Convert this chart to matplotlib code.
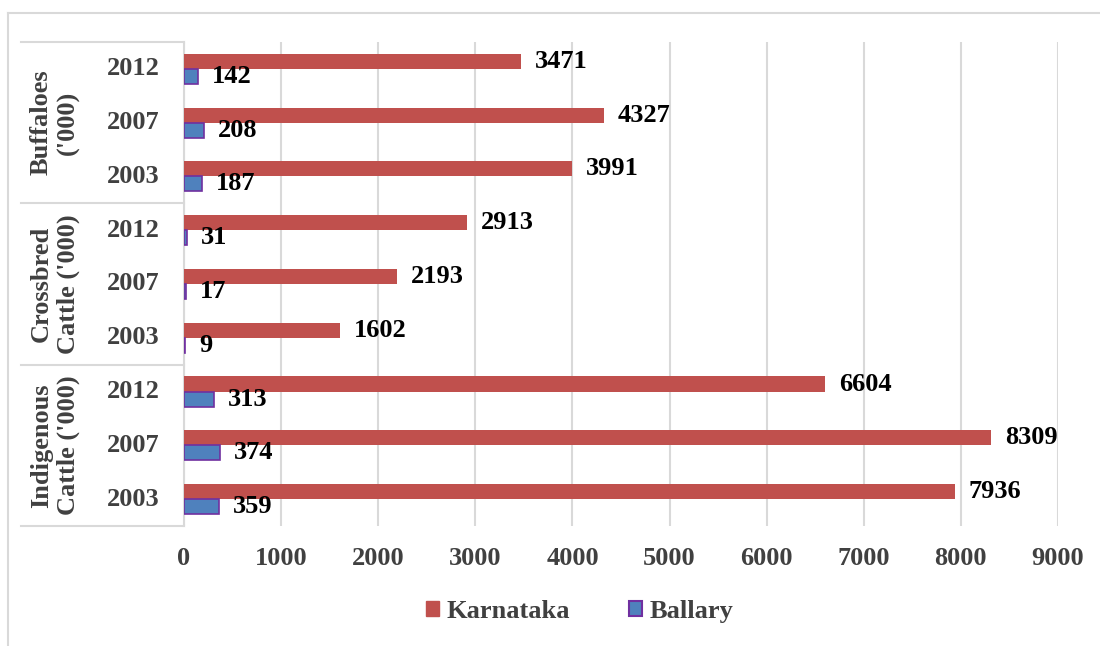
import matplotlib
matplotlib.use('Agg')
import matplotlib.pyplot as plt
import numpy as np
from matplotlib.lines import Line2D
from matplotlib.patches import Patch
from matplotlib.transforms import blended_transform_factory

plt.rcParams['font.family'] = ['Liberation Serif', 'DejaVu Serif']
plt.rcParams['font.weight'] = 'bold'

# categories listed bottom -> top (Excel order)
groups = ["Indigenous\nCattle ('000)", "Crossbred\nCattle ('000)", "Buffaloes\n('000)"]
years = ['2003', '2007', '2012']
karnataka = [7936, 8309, 6604, 1602, 2193, 2913, 3991, 4327, 3471]
ballary = [359, 374, 313, 9, 17, 31, 187, 208, 142]
xticks = [0, 1000, 2000, 3000, 4000, 5000, 6000, 7000, 8000, 9000]

RED = '#C0504D'
BLUE = '#4F81BD'
PURPLE = '#7030A0'
GRID = '#D9D9D9'
TXT = '#404040'
FS = 19

fig = plt.figure(figsize=(11, 6.46), dpi=100)
ax = fig.add_axes([0.1673, 0.1858, 0.7945, 0.7492])

n = len(karnataka)
y = np.arange(n)
h = 0.28
ax.barh(y + h / 2, karnataka, height=h, color=RED, zorder=3, label='Karnataka')
ax.barh(y - h / 2, ballary, height=h, color=BLUE, edgecolor=PURPLE,
        linewidth=1.2, zorder=3, label='Ballary')

for yi, v in zip(y, karnataka):
    ax.annotate(str(v), (v, yi + h / 2), xytext=(10, 0), textcoords='offset points',
                ha='left', va='center', fontsize=FS, fontweight='bold', color='black')
for yi, v in zip(y, ballary):
    ax.annotate(str(v), (v, yi - h / 2), xytext=(10, 0), textcoords='offset points',
                ha='left', va='center', fontsize=FS, fontweight='bold', color='black')

ax.set_xlim(0, 9000)
ax.set_ylim(-0.5, n - 0.5)
ax.set_xticks(xticks)
ax.set_xticklabels([str(t) for t in xticks], fontsize=FS, fontweight='bold', color=TXT)
ax.set_yticks([])
ax.tick_params(axis='x', length=0, pad=15)
ax.grid(axis='x', color=GRID, linewidth=1.5, zorder=0)
ax.set_axisbelow(True)
for s in ['top', 'right', 'bottom']:
    ax.spines[s].set_visible(False)
ax.spines['left'].set_color(GRID)
ax.spines['left'].set_linewidth(1.5)

# multi-level category axis
tr = blended_transform_factory(ax.transAxes, ax.transData)
for i in range(n):
    ax.text(-0.058, i, years[i % 3], transform=tr, ha='center', va='center',
            fontsize=FS, fontweight='bold', color=TXT)
for g, name in enumerate(groups):
    ax.text(-0.148, g * 3 + 1, name, transform=tr, ha='center', va='center',
            rotation=90, fontsize=FS, fontweight='bold', color=TXT, linespacing=1.2)
for b in [-0.5, 2.5, 5.5, 8.5]:
    ax.add_line(Line2D([-0.1865, 0], [b, b], transform=tr, color=GRID,
                       linewidth=1.5, clip_on=False))

# legend
handles = [Patch(facecolor=RED, edgecolor=RED), Patch(facecolor=BLUE, edgecolor=PURPLE, linewidth=1.5)]
leg = fig.legend(handles, ['Karnataka', 'Ballary'], loc='center', ncol=2,
                 bbox_to_anchor=(0.527, 0.053), frameon=False, handlelength=0.5,
                 handleheight=0.5, handletextpad=0.3, columnspacing=2.2,
                 prop={'size': FS, 'weight': 'bold'})
for t in leg.get_texts():
    t.set_color(TXT)

# chart border (top and left visible)
fig.add_artist(Line2D([8 / 1100, 1], [1 - 13 / 646, 1 - 13 / 646], transform=fig.transFigure,
                      color=GRID, linewidth=1.5))
fig.add_artist(Line2D([8 / 1100, 8 / 1100], [0, 1 - 13 / 646], transform=fig.transFigure,
                      color=GRID, linewidth=1.5))

fig.savefig('out.png', dpi=100)
